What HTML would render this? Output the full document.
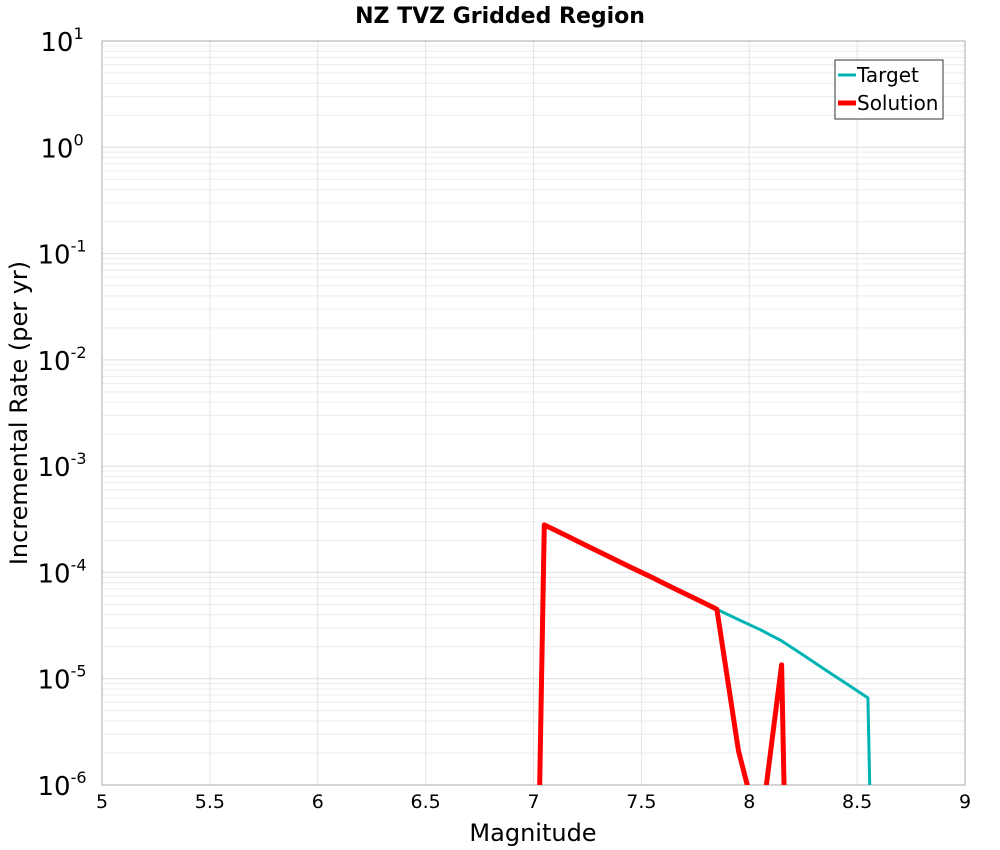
<!DOCTYPE html>
<html><head><meta charset="utf-8"><style>
html,body{margin:0;padding:0;background:#fff;overflow:hidden;width:1000px;height:850px}
svg{display:block}
svg text{font-family:"DejaVu Sans","Liberation Sans",sans-serif}
</style></head><body>
<svg id="chart" width="1000" height="850">
<text x="500" y="23" text-anchor="middle" font-size="22" font-weight="bold">NZ TVZ Gridded Region</text>
<g id="grid"></g>
<rect x="102" y="41" width="863" height="744" fill="none" stroke="#aaa"/>
<g id="ticks"></g>
<g id="series"></g>
<text x="533" y="841" text-anchor="middle" font-size="24">Magnitude</text>
<text transform="translate(27,413) rotate(-90)" text-anchor="middle" font-size="24">Incremental Rate (per yr)</text>
<g>
<rect x="835" y="60" width="108" height="59" fill="#fff" stroke="#333"/>
<line x1="838" y1="75" x2="856" y2="75" stroke="#00b4b4" stroke-width="3"/>
<text x="857" y="82" font-size="20">Target</text>
<line x1="838" y1="103" x2="856" y2="103" stroke="#f00" stroke-width="5"/>
<text x="857" y="110" font-size="20">Solution</text>
</g>
</svg>
<script>
const xTicks=[5,5.5,6,6.5,7,7.5,8,8.5,9];
const yExps=[1,0,-1,-2,-3,-4,-5,-6];
const targetMags=[6.95,7.05,7.15,7.25,7.35,7.45,7.55,7.65,7.75,7.85,7.95,8.05,8.15,8.25,8.35,8.45,8.55,8.65];
const targetRates=[1e-15,2.8e-4,2.23e-4,1.77e-4,1.41e-4,1.12e-4,8.95e-5,7.1e-5,5.67e-5,4.5e-5,3.6e-5,2.9e-5,2.27e-5,1.67e-5,1.22e-5,9e-6,6.6e-6,1e-15];
const solMags=[6.95,7.05,7.15,7.25,7.35,7.45,7.55,7.65,7.75,7.85,7.95,8.05,8.15,8.25];
const solRates=[1e-15,2.8e-4,2.23e-4,1.77e-4,1.41e-4,1.12e-4,8.95e-5,7.1e-5,5.67e-5,4.5e-5,2.1e-6,3.4e-7,1.35e-5,1e-15];
const X0=102,X1=965,Y0=41,Y1=785;
const xs=m=>X0+(m-5)/4*(X1-X0);
const ys=v=>Y0+(1-Math.log10(v))/7*(Y1-Y0);
const NS="http://www.w3.org/2000/svg";
function mk(t,a,p){const e=document.createElementNS(NS,t);for(const k in a)e.setAttribute(k,a[k]);p.appendChild(e);return e;}
const grid=document.getElementById('grid'),ticks=document.getElementById('ticks'),ser=document.getElementById('series');
for(let e=-6;e<1;e++)for(let k=1;k<10;k++){const y=ys(k*Math.pow(10,e));
 const l=mk('line',{x1:X0,x2:X1,y1:y,y2:y,stroke:k==1?'#ddd':'#ececec','stroke-width':1},grid);
 
 }
xTicks.forEach(m=>{const x=xs(m);
 const l=mk('line',{x1:x,x2:x,y1:Y0,y2:Y1,stroke:'#e4e4e4'},grid);
 
 
 const t=mk('text',{x:x,y:808,'text-anchor':'middle','font-size':19},ticks);t.textContent=String(m);
 
 });
yExps.forEach(e=>{const y=ys(Math.pow(10,e));
 const t=mk('text',{x:62,y:y+10,'text-anchor':'middle','font-size':26},ticks);
 
 
 t.appendChild(document.createTextNode('10'));
 const s=mk('tspan',{dy:-12,'font-size':16},t);s.textContent=String(e);});
const cp=mk('clipPath',{id:'clip'},ser);
mk('rect',{x:X0,y:Y0,width:X1-X0,height:Y1-Y0},cp);
function line(ms,vs,col,w,name){const p=mk('polyline',{points:ms.map((m,i)=>xs(m)+','+ys(vs[i])).join(' '),fill:'none',stroke:col,'stroke-width':w,'clip-path':'url(#clip)','stroke-linejoin':'round'},ser);
 
 }
line(targetMags,targetRates,'#00b4b4',3,'target-line');
line(solMags,solRates,'#f00',5,'solution-line');
</script>
</body></html>
